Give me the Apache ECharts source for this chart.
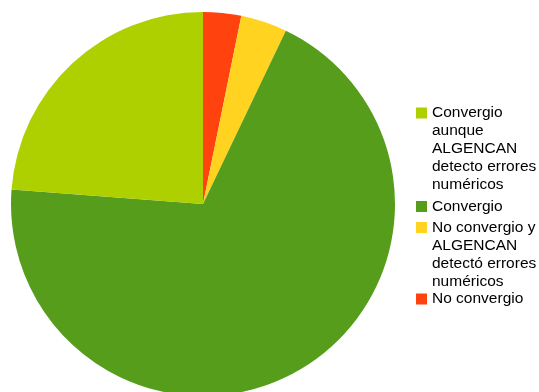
<!DOCTYPE html>
<html>
<head>
<meta charset="utf-8">
<script src="https://cdn.jsdelivr.net/npm/echarts@6/dist/echarts.min.js"></script>
<style>
  html, body { margin: 0; padding: 0; background: #fff; }
  #chart { width: 539px; height: 392px; }
</style>
</head>
<body>
<div id="chart"></div>
<script>
// categories in pie order (clockwise from 12 o'clock)
const categories = [
  'No convergio',
  'No convergio y\nALGENCAN\ndetectó errores\nnuméricos',
  'Convergio',
  'Convergio\naunque\nALGENCAN\ndetecto errores\nnuméricos'
];
const values = [3.2, 3.9, 69.1, 23.8];
const colors = ['#ff420e', '#ffd320', '#579d1c', '#aecf00'];

// legend order as shown on the right
const legendOrder = [3, 2, 1, 0];
const legendTops = [104, 197.5, 218.5, 290];

const lineH = 18;

const legends = legendOrder.map(function (idx, i) {
  const lines = categories[idx].split('\n').length;
  const h = lines * lineH;
  return {
    orient: 'vertical',
    left: 416,
    top: legendTops[i],
    padding: 0,
    itemWidth: 11,
    itemHeight: h,
    itemGap: 0,
    // square at the first line, invisible extension to full height
    icon: 'path://M0,0M0,3.5h11v11h-11zM11,' + h,
    data: [categories[idx]],
    selectedMode: false,
    textStyle: {
      fontFamily: 'Liberation Sans',
      fontSize: 15.5,
      lineHeight: lineH,
      color: '#000'
    }
  };
});

const chart = echarts.init(document.getElementById('chart'));
chart.setOption({
  animation: false,
  color: colors,
  legend: legends,
  series: [
    {
      type: 'pie',
      center: [203, 204],
      radius: [0, 192],
      startAngle: 90,
      clockwise: true,
      label: { show: false },
      labelLine: { show: false },
      emphasis: { disabled: true },
      itemStyle: { borderWidth: 0 },
      data: categories.map(function (name, i) {
        return { name: name, value: values[i] };
      })
    }
  ]
});
</script>
</body>
</html>
